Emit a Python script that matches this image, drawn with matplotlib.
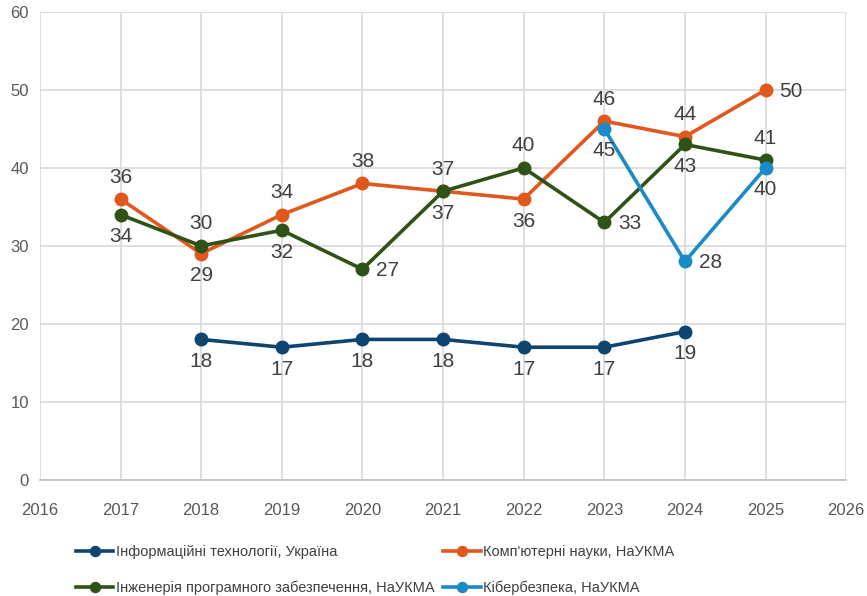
import matplotlib
matplotlib.use("Agg")
import matplotlib.pyplot as plt
from matplotlib import font_manager

names = {f.name for f in font_manager.fontManager.ttflist}
fam = ['Liberation Sans Narrow', 'Liberation Sans', 'DejaVu Sans'] if 'Liberation Sans Narrow' in names else ['Liberation Sans', 'DejaVu Sans']
plt.rcParams['font.family'] = fam

years_it = [2018, 2019, 2020, 2021, 2022, 2023, 2024]
it_ukraine = [18, 17, 18, 18, 17, 17, 19]

years_cs = [2017, 2018, 2019, 2020, 2021, 2022, 2023, 2024, 2025]
cs_naukma = [36, 29, 34, 38, 37, 36, 46, 44, 50]

years_se = [2017, 2018, 2019, 2020, 2021, 2022, 2023, 2024, 2025]
se_naukma = [34, 30, 32, 27, 37, 40, 33, 43, 41]

years_cyber = [2023, 2024, 2025]
cyber_naukma = [45, 28, 40]

labels = ["Інформаційні технології, Україна", "Комп'ютерні науки, НаУКМА",
          "Інженерія програмного забезпечення, НаУКМА", "Кібербезпека, НаУКМА"]

# label placement per point: 'a' above, 'b' below, 'r' right
pos_it = ['b'] * 7
pos_cs = ['a', 'b', 'a', 'a', 'a', 'b', 'a', 'a', 'r']
pos_se = ['b', 'a', 'b', 'r', 'b', 'a', 'r', 'b', 'a']
pos_cyber = ['b', 'r', 'b']

c_it = '#0E4470'
c_cs = '#E0581B'
c_se = '#2F5316'
c_cy = '#1A8AC8'

fig = plt.figure(figsize=(8.67, 5.96), dpi=100)
ax = fig.add_axes([0.046, 0.195, 0.930, 0.785])

series = [
    (years_it, it_ukraine, c_it, labels[0], pos_it),
    (years_cs, cs_naukma, c_cs, labels[1], pos_cs),
    (years_se, se_naukma, c_se, labels[2], pos_se),
    (years_cyber, cyber_naukma, c_cy, labels[3], pos_cyber),
]
handles = []
for xs, ys, c, lab, pos in series:
    h, = ax.plot(xs, ys, color=c, lw=2.6, marker='o', ms=9, label=lab, zorder=3)
    handles.append(h)
    for x, y, p in zip(xs, ys, pos):
        if p == 'a':
            ax.annotate(str(y), (x, y), xytext=(0, 9), textcoords='offset points',
                        ha='center', va='bottom', fontsize=15, color='#404040')
        elif p == 'b':
            ax.annotate(str(y), (x, y), xytext=(0, -9), textcoords='offset points',
                        ha='center', va='top', fontsize=15, color='#404040')
        else:
            ax.annotate(str(y), (x, y), xytext=(10, -1), textcoords='offset points',
                        ha='left', va='center', fontsize=15, color='#404040')

ax.set_xlim(2016, 2026)
ax.set_ylim(0, 60)
ax.set_xticks(range(2016, 2027))
ax.set_yticks(range(0, 61, 10))
ax.grid(True, color='#D9D9D9', lw=1.2)
ax.set_axisbelow(True)
for s in ['top', 'right']:
    ax.spines[s].set_visible(False)
ax.spines['left'].set_visible(False)
ax.spines['bottom'].set_color('#BFBFBF')
ax.spines['bottom'].set_linewidth(1.2)
ax.tick_params(length=0, labelsize=12, colors='#595959', pad=8)
ax.tick_params(axis='x', pad=17)

order = [0, 2, 1, 3]
leg = fig.legend(handles=[handles[i] for i in order], labels=[labels[i] for i in order],
                 loc='lower left', bbox_to_anchor=(0.072, -0.02),
                 ncol=2, frameon=False, fontsize=10.5, handlelength=2.6, handletextpad=0.15,
                 columnspacing=0.6, labelspacing=1.45, labelcolor='#404040', markerscale=0.8)

fig.savefig('out.png', dpi=100)
